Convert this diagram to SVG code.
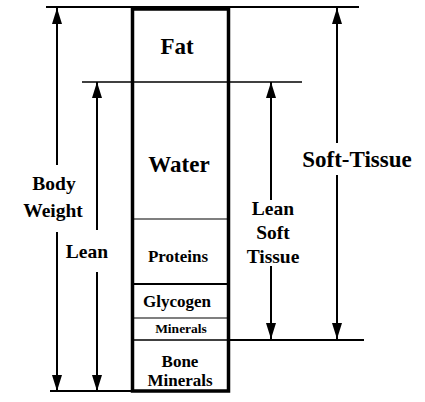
<svg xmlns="http://www.w3.org/2000/svg" width="425" height="402" viewBox="0 0 425 402">
<defs>
<marker id="ah" markerUnits="userSpaceOnUse" markerWidth="18" markerHeight="12" viewBox="0 0 18 12" refX="17" refY="6" orient="auto">
<path d="M17 6 L1 1 L1 11 Z" fill="#000"/>
</marker>
<style>
.big{font-size:23px}
.mid{font-size:19.5px}
.sm{font-size:17px}
.xs{font-size:13.5px}
.ln{stroke:#000;fill:none}
.arr{stroke:#000;stroke-width:2;fill:none;marker-end:url(#ah)}
</style>
</defs>
<rect width="425" height="402" fill="#fff"/>
<g id="guides">
<line class="ln" x1="46" y1="7" x2="359" y2="7" stroke-width="2"/>
<line class="ln" x1="82" y1="82" x2="302" y2="82" stroke-width="1.3"/>
<line class="ln" x1="229" y1="340" x2="364" y2="340" stroke-width="2"/>
<line class="ln" x1="50" y1="391" x2="229" y2="391" stroke-width="2"/>
</g>
<g id="column">
<line class="ln" x1="132" y1="219" x2="229" y2="219" stroke-width="1.2"/>
<line class="ln" x1="132" y1="284" x2="229" y2="284" stroke="#666" stroke-width="2"/>
<line class="ln" x1="132" y1="318" x2="229" y2="318" stroke-width="1.2"/>
<line class="ln" x1="132" y1="340" x2="229" y2="340" stroke-width="1.5"/>
<rect x="132.5" y="9" width="96" height="382" fill="none" stroke="#000" stroke-width="3.5"/>
</g>
<g font-family="'Liberation Serif', 'Times New Roman', serif" font-weight="bold" fill="#000" text-anchor="middle">
<g id="fat"><text class="big" x="177" y="54">Fat</text></g>
<g id="water"><text class="big" x="179" y="172">Water</text></g>
<g id="proteins"><text class="sm" x="178" y="262">Proteins</text></g>
<g id="glycogen"><text class="sm" x="177" y="307">Glycogen</text></g>
<g id="minerals"><text class="xs" x="181" y="333">Minerals</text></g>
<g id="bone-minerals"><text class="sm" x="180" y="367">Bone</text><text class="sm" x="180" y="386">Minerals</text></g>
<g id="body-weight"><text class="mid" x="54" y="190">Body</text><text class="mid" x="53" y="217">Weight</text></g>
<g id="lean"><text class="mid" x="87" y="258">Lean</text></g>
<g id="lean-soft-tissue"><text class="mid" x="273" y="215">Lean</text><text class="mid" x="273" y="239">Soft</text><text class="mid" x="273" y="263">Tissue</text></g>
<g id="soft-tissue"><text class="big" x="357" y="167">Soft-Tissue</text></g>
</g>
<g id="connectors">
<path class="arr" d="M57 165 V8"/>
<path class="arr" d="M57 232 V391"/>
<path class="arr" d="M97 230 V82"/>
<path class="arr" d="M97 272 V391"/>
<path class="arr" d="M271 200 V82"/>
<path class="arr" d="M271 266 V339"/>
<path class="arr" d="M337 143 V8"/>
<path class="arr" d="M337 175 V339"/>
</g>
</svg>
